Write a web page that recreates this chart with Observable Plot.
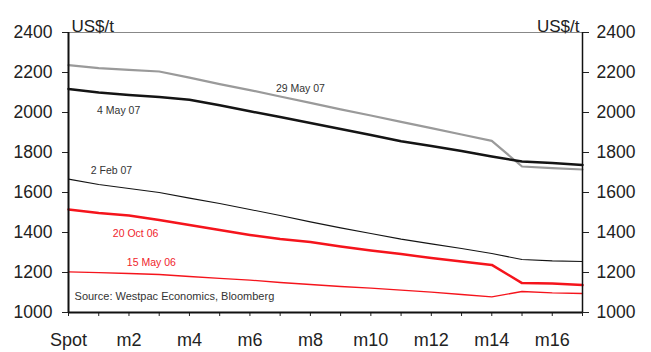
<!DOCTYPE html>
<html>
<head>
<meta charset="utf-8">
<script src="https://cdn.jsdelivr.net/npm/d3@7"></script>
<script src="https://cdn.jsdelivr.net/npm/@observablehq/plot@0.6"></script>
<style>
  html, body { margin: 0; padding: 0; background: #fff; }
  #chart svg { display: block; font-family: "Liberation Sans", Arial, sans-serif; }
</style>
</head>
<body>
<div id="chart"></div>
<script>
// Forward curve tenors: spot and monthly contracts
const months = ["Spot", "m1", "m2", "m3", "m4", "m5", "m6", "m7", "m8", "m9",
                "m10", "m11", "m12", "m13", "m14", "m15", "m16", "m17"];

// Forward curves (US$/t) on each observation date
const may29_07 = [2237, 2222, 2213, 2205, 2174, 2142, 2112, 2080, 2048, 2016,
                  1985, 1953, 1922, 1890, 1858, 1730, 1722, 1715];
const may4_07  = [2118, 2100, 2088, 2077, 2064, 2036, 2006, 1977, 1948, 1918,
                  1888, 1856, 1832, 1808, 1780, 1755, 1747, 1738];
const feb2_07  = [1667, 1640, 1620, 1600, 1572, 1545, 1515, 1485, 1453, 1423,
                  1395, 1367, 1343, 1320, 1295, 1265, 1258, 1255];
const oct20_06 = [1515, 1497, 1485, 1463, 1437, 1412, 1388, 1367, 1352, 1330,
                  1310, 1292, 1272, 1255, 1238, 1147, 1145, 1137];
const may15_06 = [1203, 1199, 1195, 1190, 1180, 1171, 1162, 1150, 1140, 1130,
                  1122, 1112, 1102, 1090, 1078, 1105, 1098, 1095];

const yTicks = [1000, 1200, 1400, 1600, 1800, 2000, 2200, 2400];
const sourceNote = "Source: Westpac Economics, Bloomberg";

const series = [
  {name: "29 May 07", values: may29_07, color: "#9a9a9a", width: 2.2, labelAt: [7.67, 2118]},
  {name: "4 May 07",  values: may4_07,  color: "#141414", width: 2.5, labelAt: [1.66, 2011]},
  {name: "2 Feb 07",  values: feb2_07,  color: "#141414", width: 1.1, labelAt: [1.42, 1708]},
  {name: "20 Oct 06", values: oct20_06, color: "#f5141c", width: 2.5, labelAt: [2.22, 1396]},
  {name: "15 May 06", values: may15_06, color: "#f5141c", width: 1.3, labelAt: [2.74, 1248]}
];

const rows = series.flatMap(s => s.values.map((v, i) => ({series: s.name, i, value: v})));
const labelColor = s => s.color === "#f5141c" ? "#f0242c" : "#333";

const marks = [
  // frame: grey top edge, black left/right/bottom axes
  Plot.ruleY([2400], {stroke: "#888", strokeWidth: 1}),
  ...series.map(s => Plot.line(rows.filter(r => r.series === s.name), {
    x: "i", y: "value", stroke: s.color, strokeWidth: s.width, strokeLinejoin: "round"
  })),
  ...series.map(s => Plot.text([s], {
    x: d => d.labelAt[0], y: d => d.labelAt[1], text: d => d.name,
    fill: labelColor(s), fontSize: 10.5, textAnchor: "middle"
  })),
  Plot.text([sourceNote], {x: 0.2, y: 1078, text: d => d, textAnchor: "start", fontSize: 11, fill: "#333"}),
  Plot.axisY(yTicks, {anchor: "left", tickSize: 6, tickPadding: 10, fontSize: 17.5, fill: "#222", label: null, stroke: "#222", tickFormat: d => String(d)}),
  Plot.axisY(yTicks, {anchor: "right", tickSize: 6, tickPadding: 8, fontSize: 17.5, fill: "#222", label: null, stroke: "#222", tickFormat: d => String(d)}),
  Plot.axisX(d3.range(months.length), {
    anchor: "bottom", tickSize: 4, tickPadding: 16.5, fontSize: 18, fill: "#222", stroke: "#222",
    tickFormat: i => i % 2 ? "" : months[i], label: null
  }),
  Plot.ruleX([0], {stroke: "#111", strokeWidth: 2}),
  Plot.ruleX([months.length - 1], {stroke: "#111", strokeWidth: 1.5}),
  Plot.ruleY([1000], {stroke: "#111", strokeWidth: 2}),
  Plot.text(["US$/t"], {frameAnchor: "top-left", dx: 3, dy: -13, textAnchor: "start", fontSize: 17, fill: "#222"}),
  Plot.text(["US$/t"], {frameAnchor: "top-right", dx: -3, dy: -13, textAnchor: "end", fontSize: 17, fill: "#222"})
];

const chart = Plot.plot({
  width: 651,
  height: 352,
  marginLeft: 68,
  marginRight: 69,
  marginTop: 32,
  marginBottom: 40,
  x: {type: "linear", domain: [0, months.length - 1]},
  y: {domain: [1000, 2400]},
  style: {fontFamily: "'Liberation Sans', Arial, sans-serif", background: "#fff"},
  marks
});
document.getElementById("chart").appendChild(chart);
</script>
</body>
</html>
